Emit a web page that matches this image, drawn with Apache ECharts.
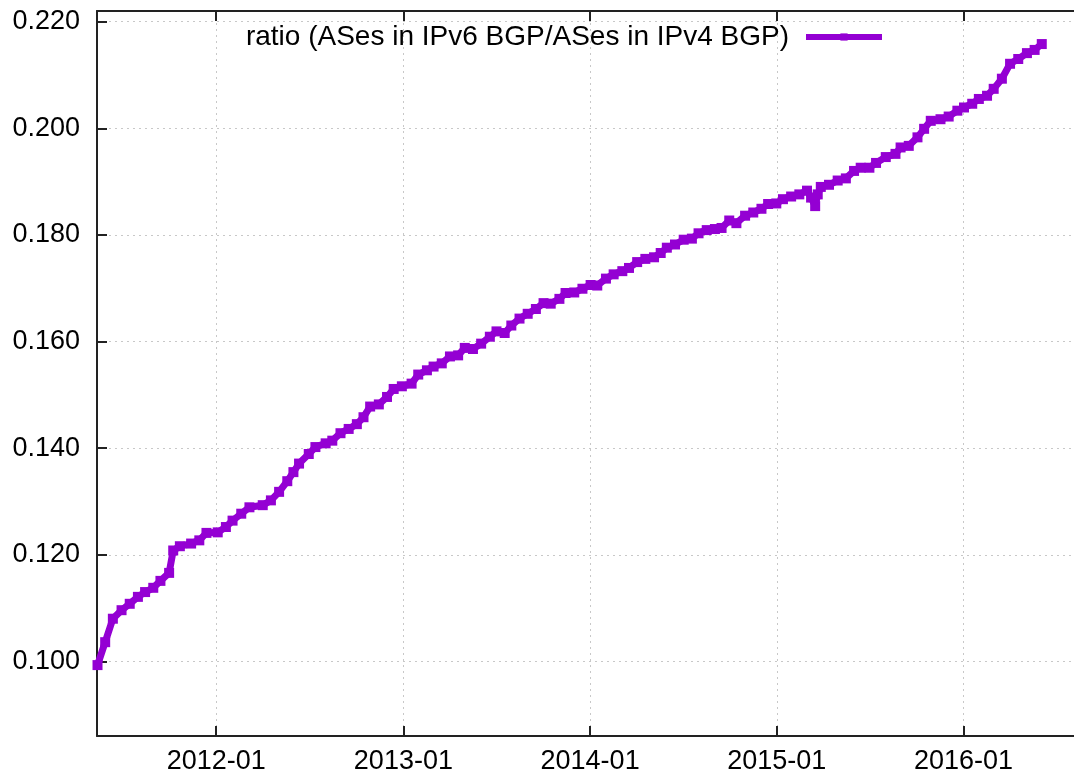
<!DOCTYPE html>
<html>
<head>
<meta charset="utf-8">
<script src="https://cdn.jsdelivr.net/npm/echarts@6/dist/echarts.min.js"></script>
<style>
    html, body { margin: 0; padding: 0; background: #fff; }
    #chart { width: 1074px; height: 776px; }
</style>
</head>
<body>
<div id="chart"></div>
<script>
// 数据：日期与比值
var dates = [
    '2011-05-14', '2011-05-29', '2011-06-13', '2011-06-30', '2011-07-16', '2011-08-01', '2011-08-15', '2011-08-31',
    '2011-09-14', '2011-10-01', '2011-10-09', '2011-10-22', '2011-11-13', '2011-11-29', '2011-12-13', '2012-01-04',
    '2012-01-20', '2012-02-02', '2012-02-19', '2012-03-06', '2012-04-01', '2012-04-17', '2012-05-03', '2012-05-19',
    '2012-05-31', '2012-06-11', '2012-06-30', '2012-07-13', '2012-08-02', '2012-08-15', '2012-08-31', '2012-09-16',
    '2012-10-02', '2012-10-15', '2012-10-28', '2012-11-14', '2012-11-30', '2012-12-13', '2012-12-29', '2013-01-17',
    '2013-01-30', '2013-02-16', '2013-03-01', '2013-03-17', '2013-04-02', '2013-04-18', '2013-05-01', '2013-05-17',
    '2013-06-02', '2013-06-19', '2013-07-02', '2013-07-18', '2013-07-31', '2013-08-16', '2013-09-01', '2013-09-17',
    '2013-10-02', '2013-10-16', '2013-11-02', '2013-11-14', '2013-12-01', '2013-12-17', '2014-01-02', '2014-01-15',
    '2014-02-01', '2014-02-16', '2014-03-05', '2014-03-18', '2014-04-03', '2014-04-19', '2014-05-06', '2014-05-19',
    '2014-05-31', '2014-06-16', '2014-07-03', '2014-07-19', '2014-08-01', '2014-08-17', '2014-09-02', '2014-09-15',
    '2014-09-30', '2014-10-14', '2014-10-31', '2014-11-16', '2014-12-02', '2014-12-15', '2014-12-31', '2015-01-13',
    '2015-01-29', '2015-02-14', '2015-03-01', '2015-03-09', '2015-03-17', '2015-03-22', '2015-03-28', '2015-04-13',
    '2015-04-30', '2015-05-16', '2015-06-01', '2015-06-14', '2015-07-01', '2015-07-14', '2015-08-02', '2015-08-21',
    '2015-08-31', '2015-09-16', '2015-10-03', '2015-10-16', '2015-10-29', '2015-11-17', '2015-12-03', '2015-12-20',
    '2016-01-02', '2016-01-18', '2016-01-31', '2016-02-16', '2016-02-29', '2016-03-16', '2016-04-01', '2016-04-17',
    '2016-05-04', '2016-05-19', '2016-06-02'
];
var ratio = [
    0.0993, 0.1036, 0.1080, 0.1096, 0.1108, 0.1121, 0.1130, 0.1138,
    0.1151, 0.1166, 0.1208, 0.1216, 0.1221, 0.1227, 0.1241, 0.1242,
    0.1252, 0.1264, 0.1277, 0.1289, 0.1293, 0.1302, 0.1318, 0.1338,
    0.1355, 0.1371, 0.1389, 0.1402, 0.1409, 0.1414, 0.1428, 0.1436,
    0.1445, 0.1458, 0.1478, 0.1482, 0.1496, 0.1511, 0.1516, 0.1521,
    0.1538, 0.1546, 0.1553, 0.1559, 0.1572, 0.1574, 0.1588, 0.1586,
    0.1596, 0.1609, 0.1619, 0.1616, 0.1630, 0.1643, 0.1652, 0.1661,
    0.1672, 0.1671, 0.1680, 0.1691, 0.1692, 0.1699, 0.1706, 0.1705,
    0.1718, 0.1726, 0.1732, 0.1738, 0.1749, 0.1755, 0.1758, 0.1766,
    0.1776, 0.1782, 0.1791, 0.1793, 0.1803, 0.1809, 0.1811, 0.1813,
    0.1827, 0.1822, 0.1836, 0.1842, 0.1849, 0.1858, 0.1859, 0.1867,
    0.1872, 0.1876, 0.1883, 0.1870, 0.1854, 0.1876, 0.1890, 0.1894,
    0.1902, 0.1906, 0.1920, 0.1926, 0.1926, 0.1935, 0.1946, 0.1952,
    0.1964, 0.1967, 0.1983, 0.1999, 0.2014, 0.2017, 0.2022, 0.2033,
    0.2039, 0.2046, 0.2055, 0.2061, 0.2074, 0.2093, 0.2121, 0.2130,
    0.2141, 0.2147, 0.2158
];
var xTicks = ['2012-01-01', '2013-01-01', '2014-01-01', '2015-01-01', '2016-01-01'];
var yTicks = [0.100, 0.120, 0.140, 0.160, 0.180, 0.200, 0.220];
var seriesName = 'ratio (ASes in IPv6 BGP/ASes in IPv4 BGP)';

var FONT = 'Liberation Sans';
var COLOR = '#9400d3';

// 日期转成时间戳，横轴用数值轴
function toTime(s) {
    return echarts.time.parse(s).getTime();
}

var chart = echarts.init(document.getElementById('chart'));

var points = [];
for (let i = 0; i < dates.length; i++) {
    points.push([toTime(dates[i]), ratio[i]]);
}
var xTickValues = xTicks.map(toTime);

function xAxisCommon(pos, showLabel) {
    return {
        type: 'value',
        position: pos,
        min: toTime('2011-05-13'),
        max: toTime('2016-08-04'),
        axisLine: { show: true, onZero: false, lineStyle: { color: '#222', width: 2 } },
        axisTick: { show: true, inside: true, length: 10, lineStyle: { color: '#222', width: 2 }, customValues: xTickValues },
        axisLabel: {
            show: showLabel,
            customValues: xTickValues,
            margin: 12,
            fontSize: 27,
            fontFamily: FONT,
            color: '#000',
            formatter: function (v) {
                return echarts.time.format(v, '{yyyy}-{MM}', false);
            }
        },
        splitLine: { show: showLabel, lineStyle: { color: '#c8c8c8', type: [2, 4], width: 1 } }
    };
}

var option = {
    animation: false,
    backgroundColor: '#fff',
    grid: { left: 97, right: -6, top: 11, bottom: 40, containLabel: false },
    legend: {
        right: 189,
        top: 23,
        padding: 0,
        align: 'right',
        itemWidth: 76,
        itemHeight: 9,
        lineStyle: { width: 6 },
        textStyle: { fontSize: 28, fontFamily: FONT, color: '#000', padding: [0, 12, 0, 0] },
        data: [seriesName]
    },
    xAxis: [xAxisCommon('bottom', true), xAxisCommon('top', false)],
    yAxis: {
        type: 'value',
        min: 0.086,
        max: 0.222,
        axisLine: { show: true, lineStyle: { color: '#222', width: 2 } },
        axisTick: { show: true, inside: true, length: 10, lineStyle: { color: '#222', width: 2 }, customValues: yTicks },
        axisLabel: {
            customValues: yTicks,
            margin: 17,
            fontSize: 27,
            fontFamily: FONT,
            color: '#000',
            formatter: function (v) { return v.toFixed(3); }
        },
        splitLine: { show: true, lineStyle: { color: '#c8c8c8', type: [2, 4], width: 1 } }
    },
    series: [
        {
            name: seriesName,
            type: 'line',
            data: points,
            symbol: 'rect',
            symbolSize: 10,
            showAllSymbol: true,
            lineStyle: { color: COLOR, width: 7 },
            itemStyle: { color: COLOR }
        }
    ]
};

chart.setOption(option);
</script>
</body>
</html>
